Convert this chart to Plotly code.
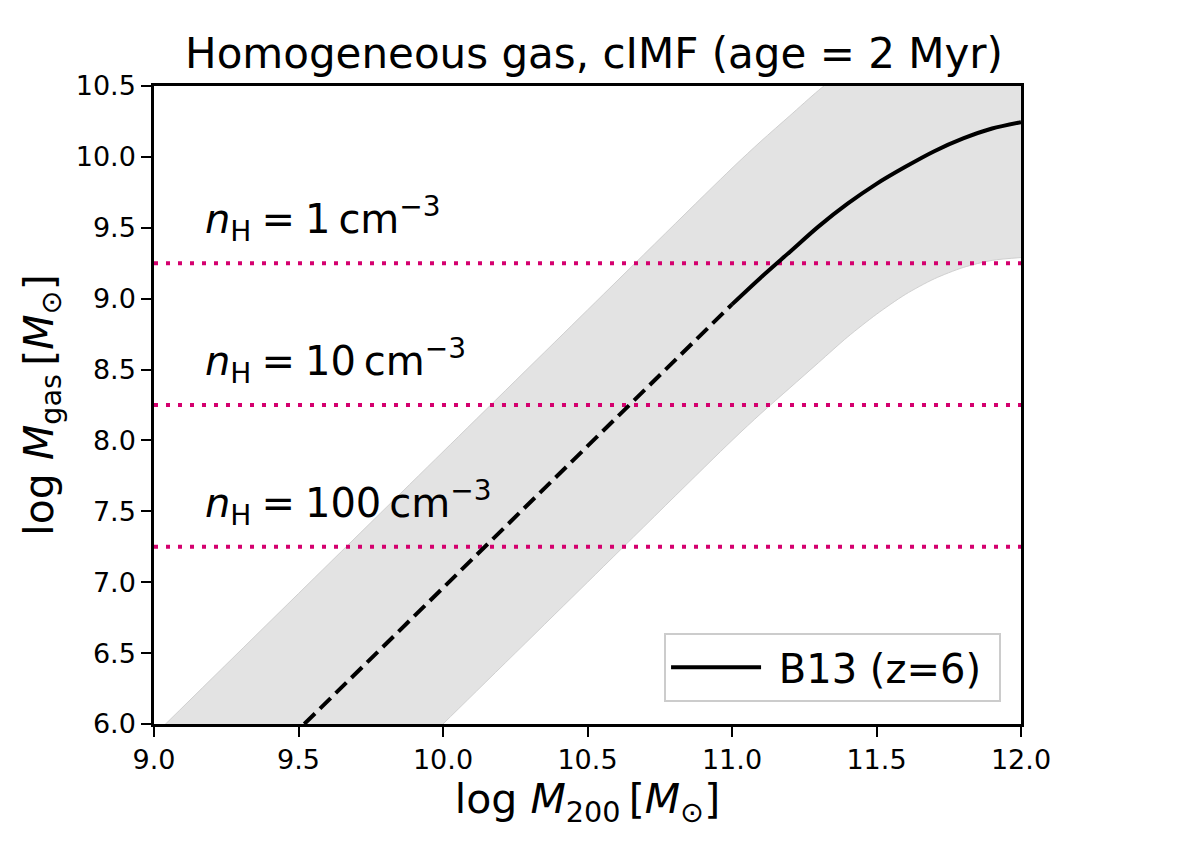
import plotly.graph_objects as go

# B13 (z=6) relation: dashed = extrapolation, solid = model range
m200_dashed = [9.52, 10.0, 10.5, 11.0]
mgas_dashed = [6.0, 6.96, 7.96, 8.96]

m200_solid = [11.0, 11.1, 11.2, 11.3, 11.4, 11.5, 11.6, 11.7, 11.8, 11.9, 12.0]
mgas_solid = [8.96, 9.15, 9.33, 9.51, 9.67, 9.81, 9.93, 10.04, 10.13, 10.20, 10.245]

# shaded scatter band
m200_band = [9.0, 9.5, 10.0, 10.5, 11.0, 11.1, 11.2, 11.3, 11.4, 11.5, 11.6, 11.7, 11.8, 11.9, 12.0]
band_upper = [5.92, 6.92, 7.92, 8.92, 9.92, 10.11, 10.29, 10.47, 10.63, 10.77, 10.89, 11.0, 11.09, 11.16, 11.2]
band_lower = [4.0, 5.0, 6.0, 7.0, 8.0, 8.19, 8.37, 8.55, 8.73, 8.89, 9.03, 9.14, 9.22, 9.27, 9.29]

# gas mass for the three densities
density_labels = ["1", "10", "100"]
density_mgas = [9.25, 8.25, 7.25]

FONT = "DejaVu Sans"
PINK = "#d4006e"
THIN = "\u2009"
MED = "\u2005"

fig = go.Figure()

fig.add_trace(go.Scatter(x=m200_band, y=band_lower, mode="lines",
                         line=dict(color="#d0d0d0", width=1, shape="spline", smoothing=0.8),
                         showlegend=False, hoverinfo="skip"))
fig.add_trace(go.Scatter(x=m200_band, y=band_upper, mode="lines", fill="tonexty",
                         fillcolor="#e3e3e3",
                         line=dict(color="#d0d0d0", width=1, shape="spline", smoothing=0.8),
                         showlegend=False, hoverinfo="skip"))

for lab, y in zip(density_labels, density_mgas):
    fig.add_trace(go.Scatter(x=[9.0, 12.0], y=[y, y], mode="lines",
                             line=dict(color=PINK, width=4, dash="4px,8px"), showlegend=False))
    fig.add_annotation(x=9.17, y=y + 0.31, xref="x", yref="y", xanchor="left", yanchor="middle",
                       text=f"<i>n</i><sub>H</sub>{MED}={MED}{lab}{THIN}cm<sup>−3</sup>", showarrow=False,
                       font=dict(family=FONT, size=40, color="black"))

fig.add_trace(go.Scatter(x=m200_dashed, y=mgas_dashed, mode="lines",
                         line=dict(color="black", width=4, dash="15px,7px"), showlegend=False))
fig.add_trace(go.Scatter(x=m200_solid, y=mgas_solid, mode="lines", name=" B13 (z=6) ",
                         line=dict(color="black", width=4, shape="spline", smoothing=0.8)))

fig.update_layout(
    width=1196, height=852,
    margin=dict(l=146, r=183, t=78, b=136),
    plot_bgcolor="white", paper_bgcolor="white",
    font=dict(family=FONT, color="black"),
    title=dict(text="Homogeneous gas, cIMF (age = 2 Myr)", x=0.49, xanchor="center",
               y=0.947, yanchor="middle", font=dict(size=42)),
    legend=dict(x=0.977, y=0.035, xanchor="right", yanchor="bottom",
                bordercolor="#cccccc", borderwidth=2, bgcolor="white",
                itemwidth=90, font=dict(size=40)),
)
fig.update_xaxes(range=[9.0, 12.0], tickvals=[9.0, 9.5, 10.0, 10.5, 11.0, 11.5, 12.0],
                 ticktext=["9.0", "9.5", "10.0", "10.5", "11.0", "11.5", "12.0"],
                 showgrid=False, zeroline=False, showline=True, linecolor="black", linewidth=2.5,
                 mirror=True, ticks="outside", ticklen=10, tickwidth=2, tickcolor="black",
                 tickfont=dict(size=27),
                 title=dict(text=f"log <i>M</i><sub>200</sub>{THIN}[<i>M</i><sub>⊙</sub>]", font=dict(size=41),
                            standoff=8))
fig.update_yaxes(range=[6.0, 10.5], tickvals=[6.0, 6.5, 7.0, 7.5, 8.0, 8.5, 9.0, 9.5, 10.0, 10.5],
                 ticktext=["6.0", "6.5", "7.0", "7.5", "8.0", "8.5", "9.0", "9.5", "10.0", "10.5"],
                 showgrid=False, zeroline=False, showline=True, linecolor="black", linewidth=2.5,
                 mirror=True, ticks="outside", ticklen=10, tickwidth=2, tickcolor="black",
                 tickfont=dict(size=27),
                 title=dict(text=f"log <i>M</i><sub>gas</sub>{THIN}[<i>M</i><sub>⊙</sub>]", font=dict(size=41),
                            standoff=10))

fig.write_html("out.html")
